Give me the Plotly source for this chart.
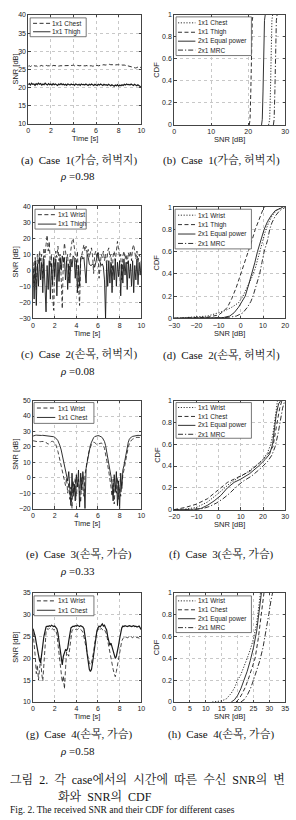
import numpy as np
import plotly.graph_objects as go

W, H = 296, 820

# ---------------- time axis (s) ----------------
t = np.round(np.linspace(0, 10, 101), 1)

# ---------------- (a) Case 1 : chest / thigh ----------------
a_chest = [25.9,26.0,25.8,26.0,25.9,26.1,25.9,26.0,25.8,26.0,
           25.9,26.0,26.1,25.9,26.0,25.9,26.1,26.0,25.9,26.0,
           26.0,25.9,26.1,26.0,25.9,26.0,26.1,25.9,26.0,26.0,
           26.1,25.9,26.0,26.1,26.0,25.9,26.0,26.1,26.0,26.1,
           26.2,26.0,26.1,26.2,26.1,26.0,26.1,26.0,26.1,26.0,
           25.9,26.0,26.1,25.9,26.0,26.1,26.0,25.9,26.0,26.1,
           26.0,26.1,26.0,26.1,26.2,26.1,26.2,26.3,26.2,26.3,
           26.4,26.3,26.4,26.3,26.4,26.3,26.2,26.3,26.4,26.3,
           26.3,26.4,26.3,26.2,26.3,26.2,26.1,26.2,26.0,25.9,
           25.8,25.7,25.6,25.5,25.6,25.4,25.5,25.6,25.8,25.6,
           25.5]
a_thigh = [20.8,21.1,20.7,21.2,20.9,21.0,20.6,21.1,20.8,21.2,
           20.9,21.1,20.7,21.0,20.8,21.2,20.9,20.7,21.1,20.8,
           21.0,20.7,21.1,20.8,21.0,20.9,20.6,21.0,20.8,21.1,
           20.8,21.0,20.7,20.9,20.6,21.0,20.8,20.7,21.0,20.8,
           20.9,20.6,21.0,20.8,20.7,20.9,20.6,21.0,20.8,20.9,
           20.7,21.0,20.8,20.6,20.9,20.7,21.0,20.8,20.6,20.9,
           20.8,20.6,20.9,20.7,21.0,20.8,20.6,20.9,20.7,20.8,
           20.6,20.9,20.7,20.5,20.8,20.6,20.4,20.7,20.5,20.8,
           20.4,20.7,20.5,20.8,20.6,20.9,20.7,21.0,20.8,20.9,
           20.7,21.0,20.8,20.6,20.9,20.7,20.5,20.8,20.4,20.3,
           20.2]

# ---------------- (b) CDF Case 1 ----------------
b_chest_x = [25.5, 25.8, 26.0, 26.2, 26.4, 26.6]
b_thigh_x = [20.3, 20.5, 20.7, 20.9, 21.1, 21.3]
b_eq_x    = [23.6, 23.8, 24.0, 24.2, 24.4, 24.6]
b_mrc_x   = [26.8, 27.0, 27.2, 27.4, 27.6, 27.8]
b_cdf     = [0.0, 0.05, 0.3, 0.7, 0.95, 1.0]

# ---------------- (c) Case 2 : wrist / thigh ----------------
c_wrist = [5,-8,8,-12,10,4,12,6,10,-5,
           14,8,16,22,12,18,2,10,-15,-25,
           5,12,8,15,6,10,-5,-24,8,17,
           12,6,10,-8,8,14,18,20,16,10,
           2,12,-10,-22,6,10,14,16,12,15,
           10,13,8,12,14,9,-2,10,12,8,
           11,-5,6,10,8,12,6,10,3,12,
           14,8,10,-4,9,12,6,15,18,13,
           8,10,-6,9,12,7,10,4,11,8,
           12,6,14,16,11,7,12,5,10,8,
           9]
c_thigh = [2,-18,6,-22,4,-10,8,-6,5,-14,
           7,-8,-26,3,-12,6,-18,4,-9,8,
           -4,7,-16,5,-7,8,0,9,5,8,
           -6,6,-12,4,-8,7,2,9,8,-5,
           6,-14,3,-10,8,9,7,8,2,-8,
           10,8,4,3,3,4,3,2,5,9,
           11,7,5,3,4,2,-6,-30,4,-10,
           6,-8,5,-14,3,-6,7,-10,5,-4,
           6,-16,4,-8,7,-3,5,-12,6,-5,
           4,-10,6,-14,3,-6,7,-9,5,-3,
           6]

# ---------------- (d) CDF Case 2 ----------------
d_wrist_x = [-30,-20,-15,-10,-7,-4,-1,1,3,5,6.5,8,9.5,11,12.5,14,16,18.5]
d_wrist_y = [0,0.01,0.02,0.05,0.07,0.1,0.14,0.2,0.28,0.37,0.45,0.57,0.67,0.78,0.86,0.92,0.97,1.0]
d_thigh_x = [-30,-20,-15,-10,-8,-6,-4,-2,0,2,3.5,5,6.5,8,9,10,10.8]
d_thigh_y = [0,0.003,0.01,0.03,0.06,0.1,0.18,0.28,0.4,0.5,0.6,0.7,0.8,0.88,0.94,0.98,1.0]
d_eq_x    = [-30,-12,-8,-5,-3,-1,0.5,2,3.5,5,6.3,7.5,9,10.5,12,13.5,15.5,19]
d_eq_y    = [0,0.002,0.006,0.02,0.05,0.1,0.15,0.2,0.3,0.4,0.5,0.6,0.7,0.8,0.87,0.92,0.97,1.0]
d_mrc_x   = [-30,-10,-5,-2,1,3,4.5,5.5,7,8.5,9.5,10.5,12,13,14,15.5,17.5,20]
d_mrc_y   = [0,0.002,0.01,0.02,0.05,0.1,0.15,0.2,0.3,0.4,0.5,0.6,0.7,0.8,0.86,0.92,0.97,1.0]

# ---------------- (e) Case 3 : wrist / chest ----------------
e_wrist = [24.0,23.8,23.5,23.6,23.4,23.5,23.3,23.4,23.5,23.6,
           23.8,23.5,22.8,22.0,21.8,22.3,23.0,23.5,23.6,23.4,
           22.8,21.5,19.5,17.0,14.0,11.0,8.0,5.0,2.0,-1.0,
           -5.0,0.0,-10.0,-3.0,-14.0,-6.0,-20.0,-2.0,-9.0,0.0,
           -12.0,-4.0,-1.0,-10.0,-16.0,0.0,-7.0,-12.0,2.0,7.0,
           11.0,15.0,18.0,20.0,21.5,22.5,23.0,22.8,22.0,21.5,
           21.8,22.0,22.3,22.5,22.0,21.0,19.0,16.0,12.0,8.0,
           4.0,0.0,-6.0,-12.0,-1.0,-17.0,-5.0,-10.0,0.0,-14.0,
           -6.0,-12.0,-2.0,2.0,5.0,9.0,13.0,17.0,20.0,22.0,
           23.5,24.5,25.0,25.5,25.8,26.0,26.2,26.0,26.3,26.1,
           26.3]
e_chest = [27.0,27.5,27.5,27.6,27.5,27.6,27.5,27.5,27.4,27.5,
           27.4,27.3,27.4,27.2,27.3,27.1,27.0,27.0,26.8,26.6,
           26.2,25.8,25.0,24.0,22.5,20.5,18.0,15.0,11.5,8.0,
           5.0,2.0,-2.0,4.0,-8.0,-18.0,3.0,-12.0,-4.0,-15.0,
           2.0,-6.0,5.0,-19.0,3.0,-8.0,4.0,-3.0,-20.0,6.0,
           10.0,14.0,18.0,21.0,23.0,25.0,26.0,26.7,27.0,27.2,
           27.3,27.2,27.0,26.5,26.0,25.0,23.5,21.0,17.5,13.0,
           9.0,5.0,1.0,-4.0,-15.0,2.0,-9.0,4.0,-18.0,-2.0,
           -20.0,3.0,-7.0,5.0,8.0,12.0,16.0,20.0,23.0,25.0,
           26.0,26.5,26.8,27.0,27.2,27.3,27.4,27.5,27.4,27.5,
           27.5]

# ---------------- (f) CDF Case 3 ----------------
f_wrist_x = [-20,-15,-10,-5,0,3,5,8,12,16,20,22,23.5,24.5,25.3,26,26.5]
f_wrist_y = [0,0.005,0.02,0.07,0.15,0.2,0.24,0.28,0.33,0.39,0.46,0.52,0.6,0.7,0.8,0.92,1.0]
f_chest_x = [-20,-15,-10,-5,-2,1,4,7,10,14,18,21,23,24.5,25.5,26.5,27.5,28.5]
f_chest_y = [0,0.02,0.05,0.1,0.15,0.2,0.25,0.28,0.31,0.35,0.42,0.48,0.53,0.58,0.7,0.82,0.93,1.0]
f_eq_x    = [-20,-12,-8,-5,-2,1,4,7,10,14,18,21,23,24.3,25.2,26,27,28]
f_eq_y    = [0,0.002,0.01,0.04,0.08,0.13,0.2,0.25,0.28,0.33,0.4,0.46,0.51,0.6,0.75,0.88,0.97,1.0]
f_mrc_x   = [-20,-10,-7,-4,-1,2,5,8,11,15,19,22,24,25.5,26.8,27.8,28.8,29.8]
f_mrc_y   = [0,0.001,0.01,0.03,0.06,0.1,0.15,0.21,0.26,0.31,0.38,0.44,0.5,0.58,0.7,0.82,0.93,1.0]

# ---------------- (g) Case 4 : wrist / chest ----------------
g_wrist = [26.0,23.5,20.5,16.5,18.5,15.0,17.5,20.0,16.5,14.8,
           18.5,23.5,26.0,26.8,26.6,26.9,26.7,26.6,26.8,26.5,
           26.6,26.4,25.5,23.5,20.5,18.5,16.5,14.5,16.0,13.0,
           17.5,21.5,21.0,20.5,22.5,25.0,26.4,26.6,26.8,26.6,
           26.7,26.6,26.8,26.5,26.6,26.4,26.0,25.0,23.5,22.0,
           20.5,20.0,19.0,18.5,19.0,20.0,21.5,23.5,25.0,26.0,
           26.6,26.8,26.4,26.9,26.6,26.4,26.6,26.0,25.5,24.0,
           22.5,21.0,19.5,19.0,17.5,16.5,15.8,17.0,18.5,20.5,
           22.0,23.0,24.0,24.5,24.8,24.6,24.9,24.7,24.8,25.0,
           24.8,24.9,24.7,25.0,24.8,24.9,24.7,24.8,24.6,24.3,
           24.1]
g_chest = [26.8,26.0,25.0,23.5,22.0,20.5,19.5,19.0,20.5,23.0,
           25.0,26.5,27.2,27.4,27.3,27.5,27.3,27.6,27.4,27.3,
           27.4,27.2,26.8,25.8,24.0,22.0,20.5,18.5,20.5,21.5,
           22.0,21.8,22.3,24.0,26.0,27.0,27.2,27.4,27.3,27.5,
           27.4,27.6,27.4,27.3,27.5,27.4,27.2,26.8,25.5,23.5,
           21.0,19.0,17.5,17.0,17.5,19.0,21.0,23.0,25.0,26.3,
           27.0,27.4,27.2,27.7,27.9,27.4,27.6,27.0,26.5,25.0,
           24.0,23.0,23.5,22.5,21.5,21.0,20.0,20.5,21.5,23.0,
           24.5,26.0,27.0,27.4,27.3,27.5,27.4,27.3,27.4,27.5,
           27.4,27.3,27.4,27.5,27.3,27.4,27.2,27.3,27.4,27.0,
           26.6]

# ---------------- (h) CDF Case 4 ----------------
h_wrist_x = [12,13.5,15,16.5,18,19,20,21,22,23,24,25,26,26.6,27.2]
h_wrist_y = [0,0.005,0.01,0.03,0.08,0.13,0.2,0.25,0.32,0.4,0.48,0.58,0.72,0.85,1.0]
h_chest_x = [19.5,20.5,21.5,22.5,23.5,24.5,25.5,26.5,27.2,27.8,28.3]
h_chest_y = [0,0.03,0.08,0.14,0.22,0.3,0.4,0.58,0.75,0.9,1.0]
h_eq_x    = [18,19,20,21,22,23,24,25,26,26.6,27,27.5]
h_eq_y    = [0,0.02,0.06,0.12,0.2,0.28,0.38,0.5,0.65,0.8,0.9,1.0]
h_mrc_x   = [21,22,23,24,25,26,27,28,29,29.8,30.5,31]
h_mrc_y   = [0,0.02,0.06,0.12,0.2,0.28,0.38,0.5,0.65,0.8,0.93,1.0]

# ---------------- texts ----------------
captions = ["(a)  Case  1(가슴, 허벅지)", "(b)  Case  1(가슴, 허벅지)",
            "(c)  Case  2(손목, 허벅지)", "(d)  Case  2(손목, 허벅지)",
            "(e)  Case  3(손목, 가슴)", "(f)  Case  3(손목, 가슴)",
            "(g)  Case  4(손목, 가슴)", "(h)  Case  4(손목, 가슴)"]
rhos = ["0.98", "0.08", "0.33", "0.58"]
fig_caption1_words = ["그림", "2.", "각", "case에서의", "시간에", "따른", "수신", "SNR의", "변"]
fig_caption2_words = ["화와", "SNR의", "CDF"]
fig_caption3 = "Fig. 2. The received SNR and their CDF for different cases"

# ---------------- styles ----------------
INK = "#1a1a1a"
DASH = "4px,2.5px"
DOT = "1.2px,1.6px"
DASHDOT = "5px,2px,1.2px,2px"
TICKFONT = dict(family="Liberation Sans, Arial, sans-serif", size=7, color="#222")
SERIF = "Liberation Serif, Noto Serif CJK KR, Noto Sans CJK KR, serif"
SANS = "Liberation Sans, Arial, sans-serif"

fig = go.Figure()

# panel layout in pixels: (x0, x1, y0, y1)
panels = {
    1: dict(box=(23, 140, 11, 121), xr=[0, 10], yr=[10, 40], xt=[0, 2, 4, 6, 8, 10], yt=[10, 15, 20, 25, 30, 35, 40]),
    2: dict(box=(174, 289, 11, 122), xr=[0, 30], yr=[0, 1], xt=[0, 10, 20, 30], yt=[0, 0.2, 0.4, 0.6, 0.8, 1]),
    3: dict(box=(28, 140, 204, 317), xr=[0, 10], yr=[-30, 40], xt=[0, 2, 4, 6, 8, 10], yt=[-30, -20, -10, 0, 10, 20, 30, 40]),
    4: dict(box=(174, 289, 205, 317), xr=[-30, 20], yr=[0, 1], xt=[-30, -20, -10, 0, 10, 20], yt=[0, 0.2, 0.4, 0.6, 0.8, 1]),
    5: dict(box=(28, 140, 400, 509), xr=[0, 10], yr=[-20, 50], xt=[0, 2, 4, 6, 8, 10], yt=[-20, -10, 0, 10, 20, 30, 40, 50]),
    6: dict(box=(174, 289, 400, 510), xr=[-20, 30], yr=[0, 1], xt=[-20, -10, 0, 10, 20, 30], yt=[0, 0.2, 0.4, 0.6, 0.8, 1]),
    7: dict(box=(28, 140, 594, 704), xr=[0, 10], yr=[10, 35], xt=[0, 2, 4, 6, 8, 10], yt=[10, 15, 20, 25, 30, 35]),
    8: dict(box=(174, 289, 594, 704), xr=[0, 35], yr=[0, 1], xt=[0, 5, 10, 15, 20, 25, 30, 35], yt=[0, 0.2, 0.4, 0.6, 0.8, 1]),
}

def fmt(v):
    if isinstance(v, float) and not float(v).is_integer():
        return f"{v:g}"
    v = int(round(v))
    return f"{v}" if v >= 0 else f"\u2212{-v}"

for n, p in panels.items():
    x0, x1, y0, y1 = p["box"]
    suf = "" if n == 1 else str(n)
    common = dict(showline=True, mirror="allticks", linecolor="#444", linewidth=0.8,
                  ticks="inside", ticklen=2.5, tickcolor="#444", tickwidth=0.8,
                  showgrid=True, gridcolor="#c8c8c8", griddash="dot", gridwidth=0.7,
                  zeroline=False, tickfont=TICKFONT, fixedrange=True)
    fig.layout["xaxis" + suf] = dict(domain=[x0 / W, x1 / W], anchor="y" + suf, range=p["xr"],
                                      tickvals=p["xt"], ticktext=[fmt(v) for v in p["xt"]], **common)
    fig.layout["yaxis" + suf] = dict(domain=[1 - y1 / H, 1 - y0 / H], anchor="x" + suf, range=p["yr"],
                                      tickvals=p["yt"], ticktext=[fmt(v) for v in p["yt"]], **common)

def add_line(n, x, y, dash, width=0.9):
    suf = "" if n == 1 else str(n)
    fig.add_trace(go.Scatter(x=x, y=y, mode="lines", xaxis="x" + suf, yaxis="y" + suf,
                             line=dict(color=INK, width=width, dash=dash), showlegend=False,
                             hoverinfo="skip"))

# (a)
add_line(1, t, a_chest, DASH)
add_line(1, t, a_thigh, "solid", 1.2)
# (b)
add_line(2, b_chest_x, b_cdf, DOT)
add_line(2, b_thigh_x, b_cdf, DASH)
add_line(2, b_eq_x, b_cdf, "solid")
add_line(2, b_mrc_x, b_cdf, DASHDOT)
# (c)
add_line(3, t, c_wrist, DASH, 0.8)
add_line(3, t, c_thigh, "solid", 0.9)
# (d)
add_line(4, d_wrist_x, d_wrist_y, DOT)
add_line(4, d_thigh_x, d_thigh_y, DASH)
add_line(4, d_eq_x, d_eq_y, "solid")
add_line(4, d_mrc_x, d_mrc_y, DASHDOT)
# (e)
add_line(5, t, e_wrist, DASH, 0.8)
add_line(5, t, e_chest, "solid", 0.9)
# (f)
add_line(6, f_wrist_x, f_wrist_y, DOT)
add_line(6, f_chest_x, f_chest_y, DASH)
add_line(6, f_eq_x, f_eq_y, "solid")
add_line(6, f_mrc_x, f_mrc_y, DASHDOT)
# (g)
add_line(7, t, g_wrist, DASH, 0.8)
add_line(7, t, g_chest, "solid", 1.2)
# (h)
add_line(8, h_wrist_x, h_wrist_y, DOT)
add_line(8, h_chest_x, h_chest_y, DASH)
add_line(8, h_eq_x, h_eq_y, "solid")
add_line(8, h_mrc_x, h_mrc_y, DASHDOT)

# ---------------- legends (drawn as layout decorations) ----------------
def add_legend(box, entries, sample, textx, ys):
    bx0, by0, bx1, by1 = box
    fig.add_shape(type="rect", xref="paper", yref="paper",
                  x0=bx0 / W, x1=bx1 / W, y0=1 - by1 / H, y1=1 - by0 / H,
                  line=dict(color="#555", width=0.8), fillcolor="white", layer="above")
    for (label, dash), yy in zip(entries, ys):
        fig.add_shape(type="line", xref="paper", yref="paper",
                      x0=sample[0] / W, x1=sample[1] / W, y0=1 - yy / H, y1=1 - yy / H,
                      line=dict(color=INK, width=0.9, dash=dash), layer="above")
        fig.add_annotation(xref="paper", yref="paper", x=textx / W, y=1 - yy / H,
                           text=label, showarrow=False, xanchor="left", yanchor="middle",
                           font=dict(family=SANS, size=6.5, color="#222"), borderpad=0)

add_legend((25, 14, 83, 33), [("1x1 Chest", DASH), ("1x1 Thigh", "solid")], (28, 46), 47, [19.5, 28])
add_legend((176, 13, 254, 52), [("1x1 Chest", DOT), ("1x1 Thigh", DASH),
                                ("2x1 Equal power", "solid"), ("2x1 MRC", DASHDOT)], (178, 196), 198, [19, 28.5, 37.5, 46.5])
add_legend((30, 207, 83, 227), [("1x1 Wrist", DASH), ("1x1 Thigh", "solid")], (33, 52), 53, [212.5, 222])
add_legend((175, 207, 254, 247), [("1x1 Wrist", DOT), ("1x1 Thigh", DASH),
                                  ("2x1 Equal power", "solid"), ("2x1 MRC", DASHDOT)], (178, 196), 198, [213, 222.5, 232, 241.5])
add_legend((29, 402, 91, 423), [("1x1 Wrist", DASH), ("1x1 Chest", "solid")], (32, 51), 53, [407.5, 417])
add_legend((176, 402, 254, 438), [("1x1 Wrist", DOT), ("1x1 Chest", DASH),
                                  ("2x1 Equal power", "solid"), ("2x1 MRC", DASHDOT)], (178, 196), 198, [407, 416, 425, 434])
add_legend((29, 597, 91, 617), [("1x1 Wrist", DASH), ("1x1 Chest", "solid")], (32, 51), 53, [602, 611.5])
add_legend((176, 597, 254, 634), [("1x1 Wrist", DOT), ("1x1 Chest", DASH),
                                  ("2x1 Equal power", "solid"), ("2x1 MRC", DASHDOT)], (178, 196), 198, [602, 611, 620, 629])

# ---------------- axis titles ----------------
def ann(xp, yp, text, size=7.5, family=SANS, angle=0, xanchor="center", color="#222"):
    fig.add_annotation(xref="paper", yref="paper", x=xp / W, y=1 - yp / H, text=text,
                       showarrow=False, textangle=angle, xanchor=xanchor, yanchor="middle",
                       font=dict(family=family, size=size, color=color), borderpad=0)

for n, p in panels.items():
    x0, x1, y0, y1 = p["box"]
    ycen = (y0 + y1) / 2
    if n % 2 == 1:
        ann((x0 + x1) / 2, y1 + 15, "Time [s]")
        ann(9.5, ycen, "SNR [dB]", angle=-90)
    else:
        ann((x0 + x1) / 2, y1 + 15, "SNR [dB]")
        ann(156, ycen, "CDF", angle=-90)

# ---------------- sub-captions ----------------
cap_y = [157, 157, 353, 354, 555, 555, 736, 736]
rho_y = [173, 370, 572, 753]
for i, c in enumerate(captions):
    xc = 76 if i % 2 == 0 else 223
    ann(xc, cap_y[i], c, size=11, family=SERIF, color="#111")
for i, r in enumerate(rhos):
    ann(74, rho_y[i], "<i>ρ</i> =" + r, size=11, family=SERIF, color="#111")

# figure caption (justified look: wider word spacing)
GAP = "\u00a0\u00a0"
ann(3, 782, GAP.join(fig_caption1_words), size=12, family=SERIF, xanchor="left", color="#111")
ann(53, 799, GAP.join(fig_caption2_words), size=12, family=SERIF, xanchor="left", color="#111")
ann(3, 813, fig_caption3, size=9.5, family=SERIF, xanchor="left", color="#111")

fig.update_layout(width=W, height=H, margin=dict(l=0, r=0, t=0, b=0),
                  paper_bgcolor="white", plot_bgcolor="white", showlegend=False)

fig.write_html("out.html", config={"displayModeBar": False})
